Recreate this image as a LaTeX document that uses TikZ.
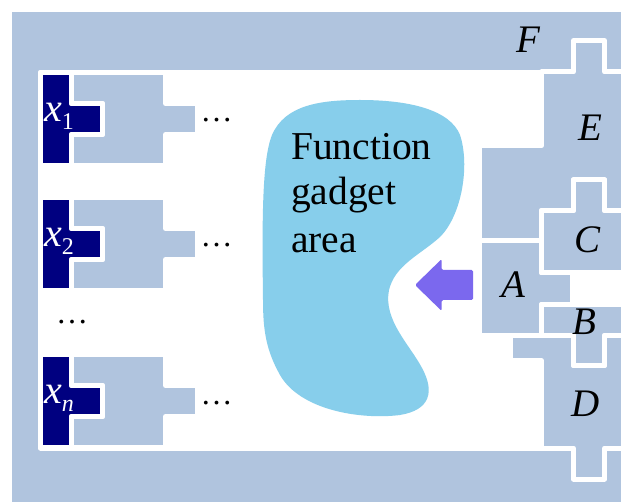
\documentclass[tikz,border=0pt]{standalone}
\usepackage{fontspec}
\setmainfont{Liberation Serif}
\definecolor{lsb}{HTML}{B0C4DE}
\definecolor{navyc}{HTML}{000080}
\definecolor{skyb}{HTML}{87CEEB}
\definecolor{msb}{HTML}{7B68EE}
\tikzset{
  edge/.style={draw=white, line width=5pt, line join=round},
  lab/.style={font=\fontsize{39}{46.5}\selectfont\itshape, anchor=base, inner sep=0pt},
  xlab/.style={font=\fontsize{40}{46.5}\selectfont\itshape, anchor=base west, inner sep=0pt, text=white},
  dotsl/.style={font=\fontsize{32}{40}\selectfont, anchor=base, inner sep=0pt},
  ftext/.style={font=\fontsize{39.5}{46.5}\selectfont, anchor=base west, inner sep=0pt},
}
\def\pE{(541.5,72) -- (573.5,72) -- (573.5,40.5) -- (604.5,40.5) -- (604.5,72) -- (640,72) -- (640,210.5) -- (604.5,210.5) -- (604.5,180) -- (573.5,180) -- (573.5,210.5) -- (541.5,210.5) -- (541.5,241) -- (479.5,241) -- (479.5,145.8) -- (541.5,145.8) -- cycle}
\def\pC{(541.5,210.5) -- (573.5,210.5) -- (573.5,180) -- (604.5,180) -- (604.5,210.5) -- (640,210.5) -- (640,273) -- (541.5,273) -- cycle}
\def\pA{(479.5,241) -- (541.5,241) -- (541.5,273) -- (572.5,273) -- (572.5,304.2) -- (541.5,304.2) -- (541.5,335.5) -- (479.5,335.5) -- cycle}
\def\pB{(541.5,304.2) -- (640,304.2) -- (640,335.5) -- (604.5,335.5) -- (604.5,365.8) -- (573.5,365.8) -- (573.5,335.5) -- (541.5,335.5) -- cycle}
\def\pD{(510.5,335.5) -- (573.5,335.5) -- (573.5,365.8) -- (604.5,365.8) -- (604.5,335.5) -- (640,335.5) -- (640,448) -- (604.5,448) -- (604.5,479) -- (573.5,479) -- (573.5,448) -- (541.5,448) -- (541.5,360.8) -- (510.5,360.8) -- cycle}
\begin{document}
\begin{tikzpicture}[x=1pt,y=-1pt]
\useasboundingbox (0,0) rectangle (621,502);
\clip (0,0) rectangle (621,502);
% frame F
\fill[lsb] (12,12) rectangle (640,520);
\filldraw[fill=white, edge] (40.5,72.5) rectangle (660,448);
% variable rows
\foreach \t/\s/\nm in {72.5/1/a, 197.5/2/b, 354.5/{\itshape n}/c}{
  \fill[navyc] (40.5,\t) -- (71.5,\t) -- (71.5,\t+31) -- (102.5,\t+31) -- (102.5,\t+62) -- (71.5,\t+62) -- (71.5,\t+93) -- (40.5,\t+93) -- cycle;
  \fill[lsb] (71.5,\t) -- (165.5,\t) -- (165.5,\t+31) -- (197.5,\t+31) -- (197.5,\t+62) -- (165.5,\t+62) -- (165.5,\t+93) -- (71.5,\t+93) -- (71.5,\t+62) -- (102.5,\t+62) -- (102.5,\t+31) -- (71.5,\t+31) -- cycle;
  \draw[edge] (40.5,\t) -- (71.5,\t) -- (71.5,\t+31) -- (102.5,\t+31) -- (102.5,\t+62) -- (71.5,\t+62) -- (71.5,\t+93) -- (40.5,\t+93) -- cycle;
  \draw[edge] (71.5,\t) -- (165.5,\t) -- (165.5,\t+31) -- (197.5,\t+31) -- (197.5,\t+62) -- (165.5,\t+62) -- (165.5,\t+93) -- (71.5,\t+93) -- (71.5,\t+62) -- (102.5,\t+62) -- (102.5,\t+31) -- (71.5,\t+31) -- cycle;
  \node[xlab] (x\nm) at (44,\t+49.2) {x\raisebox{-7.5pt}{\fontsize{24}{24}\selectfont\upshape\s}};
  \node[dotsl] (dots\nm) at (216.5,\t+49.5) {…};
}
\node[dotsl] (vdots) at (72,323.5) {…};
% function gadget area
\fill[skyb] (263,300) .. controls (262,220) and (262,160) .. (272,135)
  .. controls (285,105) and (320,100) .. (360,100)
  .. controls (410,100) and (450,110) .. (460,135)
  .. controls (470,165) and (462,215) .. (440,237)
  .. controls (420,255) and (395,265) .. (389,290)
  .. controls (383,320) and (410,345) .. (422,368)
  .. controls (435,392) and (430,410) .. (400,415)
  .. controls (360,420) and (300,410) .. (280,375)
  .. controls (266,350) and (263,330) .. (263,300) -- cycle;
\node[ftext] (f1) at (291,160) {Function};
\node[ftext] (f2) at (291,205) {gadget};
\node[ftext] (f3) at (291,252.7) {area};
% arrow
\fill[msb, rounded corners=1.5pt] (415,285) -- (441.7,259) -- (441.7,270) -- (473,270) -- (473,300) -- (441.7,300) -- (441.7,311) -- cycle;
% right pieces
\fill[lsb] \pE; \fill[lsb] \pC; \fill[lsb] \pA; \fill[lsb] \pB; \fill[lsb] \pD;
\draw[edge] \pE; \draw[edge] \pC; \draw[edge] \pA; \draw[edge] \pB; \draw[edge] \pD;
% labels
\node[lab] (lF) at (528,53) {F};
\node[lab] (lE) at (590,141) {E};
\node[lab] (lC) at (587,253) {C};
\node[lab] (lA) at (513,298) {A};
\node[lab] (lB) at (584,335) {B};
\node[lab] (lD) at (586,416.5) {D};
\end{tikzpicture}
\end{document}
